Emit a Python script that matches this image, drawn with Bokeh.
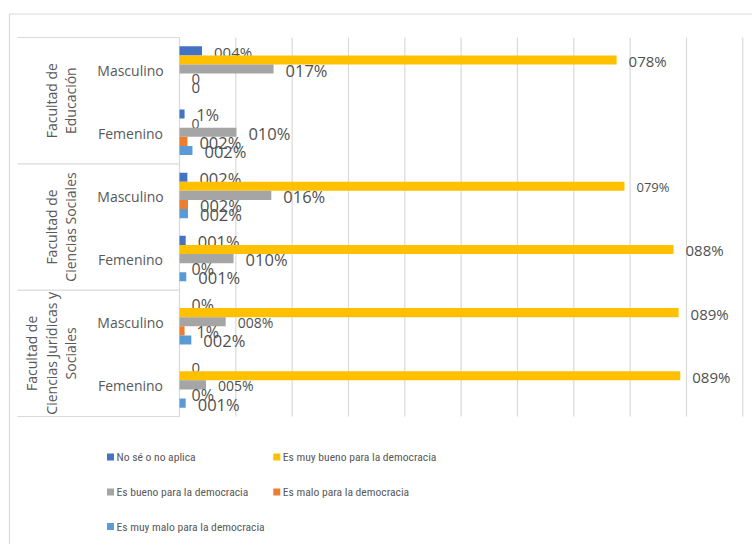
import math
from bokeh.plotting import figure
from bokeh.models import Range1d, ColumnDataSource
from bokeh.core.properties import value
from bokeh.embed import file_html
from bokeh.resources import INLINE

# ---------------- data ----------------
faculties = ["Facultad de\nEducación",
             "Facultad de\nCiencias Sociales",
             "Facultad de\nCiencias Jurídicas y\nSociales"]
genders = ["Masculino", "Femenino"]
series = ["No sé o no aplica",
          "Es muy bueno para la democracia",
          "Es bueno para la democracia",
          "Es malo para la democracia",
          "Es muy malo para la democracia"]

# values per series, slots top-down: Edu-M, Edu-F, CS-M, CS-F, Jur-M, Jur-F
no_se     = [0.040, 0.009, 0.014, 0.011, 0.000, 0.000]
muy_bueno = [0.776, 0.000, 0.790, 0.877, 0.886, 0.889]
bueno     = [0.167, 0.101, 0.163, 0.096, 0.082, 0.047]
malo      = [0.000, 0.014, 0.015, 0.000, 0.009, 0.000]
muy_malo  = [0.000, 0.023, 0.015, 0.012, 0.021, 0.011]

labels_no_se     = ["004%", "1%", "002%", "001%", "0%", "0"]
labels_muy_bueno = ["078%", "0", "079%", "088%", "089%", "089%"]
labels_bueno     = ["017%", "010%", "016%", "010%", "008%", "005%"]
labels_malo      = ["0", "002%", "002%", "0%", "1%", "0%"]
labels_muy_malo  = ["0", "002%", "002%", "001%", "002%", "001%"]

grid_ticks = [0.0, 0.1, 0.2, 0.3, 0.4, 0.5, 0.6, 0.7, 0.8, 0.9, 1.0]

# ---------------- styles ----------------
colors = ["#4472C4", "#FFC000", "#A5A5A5", "#ED7D31", "#5B9BD5"]
label_sizes = [
    [15, 16, 16.5, 16.5, 16, 15],
    [15, 14, 13, 15, 15, 15],
    [16.5, 16.5, 16.5, 16.5, 14, 14],
    [15, 16.5, 16.5, 16, 16, 16],
    [15, 16.5, 16.5, 16.5, 16.5, 16.5],
]
values_all = [no_se, muy_bueno, bueno, malo, muy_malo]
labels_all = [labels_no_se, labels_muy_bueno, labels_bueno, labels_malo, labels_muy_malo]

W, H = 752, 544
ORG = 0.0                         # page offset of the canvas
PX0, PXU = 179.0, 563.3          # page x of value 0, px per unit
SLOT_BOTTOM, SLOT_H = 416.0, 63.17
n_slots = len(faculties) * len(genders)

def dx(px):
    return (px - PX0) / PXU

def dy(py):
    return (SLOT_BOTTOM - py) / SLOT_H

p = figure(width=W, height=H,
           x_range=Range1d(dx(ORG), dx(ORG + W)),
           y_range=Range1d(dy(ORG + H), dy(ORG)),
           output_backend="svg", toolbar_location=None,
           x_axis_location=None, y_axis_location=None,
           min_border=0, outline_line_color=None,
           background_fill_color="white", border_fill_color="white")
p.grid.visible = False

GRID = "#D9D9D9"
TXT = "#595959"

# outer chart border (top and left)
p.segment(x0=[dx(9), dx(9)], y0=[dy(13.5), dy(13.5)],
          x1=[dx(ORG + W), dx(9)], y1=[dy(13.5), dy(ORG + H)],
          line_color=GRID, line_width=1.2)

# vertical gridlines
p.segment(x0=grid_ticks, y0=[0] * len(grid_ticks),
          x1=grid_ticks, y1=[n_slots] * len(grid_ticks),
          line_color=GRID, line_width=1.2)

# category separators
seps = [n_slots - 2 * g for g in range(len(faculties) + 1)]
p.segment(x0=[dx(17)] * len(seps), y0=seps, x1=[0] * len(seps), y1=seps,
          line_color=GRID, line_width=1.2)

bar_h = 9.1 / SLOT_H
for k, (vals, labs) in enumerate(zip(values_all, labels_all)):
    ys = [n_slots - s - 0.5 + (2 - k) * bar_h for s in range(n_slots)]
    src = ColumnDataSource(dict(y=ys, v=vals, lab=labs,
                                fs=[f"{sz}px" for sz in label_sizes[k]]))
    p.hbar(y="y", left=0, right="v", height=bar_h, source=src,
           fill_color=colors[k], line_color=None)
    p.text(x="v", y="y", text="lab", source=src, x_offset=12, y_offset=1,
           text_align="left", text_baseline="middle",
           text_font=value("Open Sans"), text_font_size="fs",
           text_color="#505050")

# gender labels
gx, gy, gt = [], [], []
for g in range(len(faculties)):
    for j, gen in enumerate(genders):
        s = g * len(genders) + j
        gx.append(dx(130))
        gy.append(n_slots - s - 0.5)
        gt.append(gen)
p.text(x=gx, y=gy, text=gt, y_offset=1, text_align="center",
       text_baseline="middle", text_font=value("Open Sans"),
       text_font_size="14px", text_color=TXT)

# faculty labels (rotated)
fx, fy, ft = [], [], []
for g, fac in enumerate(faculties):
    lines = fac.split("\n")
    n = len(lines)
    yc = n_slots - 2 * g - 1
    for i, ln in enumerate(lines):
        fx.append(dx(70 - (n - 1 - i) * 19.5))
        fy.append(yc)
        ft.append(ln)
p.text(x=fx, y=fy, text=ft, angle=math.pi / 2, text_align="center",
       text_baseline="alphabetic", text_font=value("Open Sans"),
       text_font_size="14px", text_color=TXT)

# legend (two columns, row-major)
col_px = [110.0, 276.3]
row_px = [456.5, 491.5, 526.0]
lx, ly, lt, lc = [], [], [], []
for i, name in enumerate(series):
    r, c = divmod(i, 2)
    lx.append(dx(col_px[c]))
    ly.append(dy(row_px[r]))
    lt.append(name)
    lc.append(colors[i])
p.rect(x=lx, y=ly, width=7, height=7, width_units="screen",
       height_units="screen", fill_color=lc, line_color=None)
p.text(x=lx, y=ly, text=lt, x_offset=6, y_offset=0, text_align="left",
       text_baseline="middle", text_font=value("Roboto Condensed"),
       text_font_size="11.6px", text_color=TXT)

open("out.html", "w").write(file_html(p, INLINE))
